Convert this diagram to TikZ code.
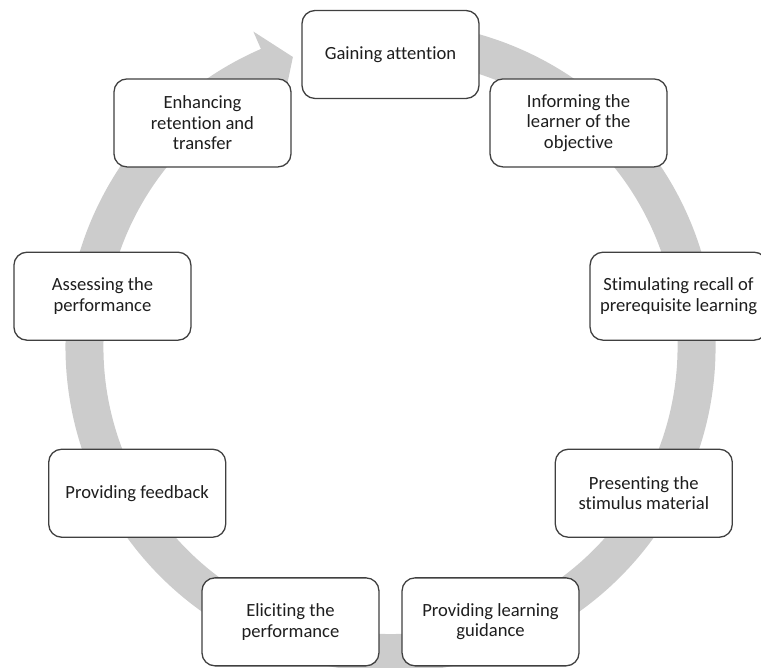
\documentclass[tikz,border=0pt]{standalone}
\usepackage{fontspec}
\setmainfont{Carlito}[Ligatures=NoCommon]
\usetikzlibrary{calc}
\definecolor{ringgray}{RGB}{204,204,204}
\definecolor{boxline}{RGB}{64,64,64}
\definecolor{txt}{RGB}{30,30,30}
\begin{document}
\begin{tikzpicture}[x=1pt,y=1pt,
  stepbox/.style={draw=boxline, line width=1.3pt, fill=white, rounded corners=13pt,
    minimum width=177pt, minimum height=88pt, align=center, text=txt,
    font=\fontsize{18.6}{20.5}\selectfont, inner sep=2pt}]
\useasboundingbox (0,0) rectangle (761,668);
\coordinate (C) at (390.5,321);
% ring arrow (one filled outline)
\fill[ringgray] ($(C)+(100:325)$) arc[start angle=100, end angle=-246.5, radius=325]
  -- ($(C)+(113.5:344)$) -- ($(C)+(108.6:306)$) -- ($(C)+(113.5:268)$)
  -- ($(C)+(113.5:287)$) arc[start angle=113.5, end angle=460, radius=287] -- cycle;
% boxes
\node[stepbox] (n1) at ($(C)+(90:292.5)$) {Gaining attention};
\node[stepbox] (n2) at ($(C)+(50:292.5)$) {Informing the\\learner of the\\objective};
\node[stepbox] (n3) at ($(C)+(10:292.5)$) {Stimulating recall of\\prerequisite learning};
\node[stepbox] (n4) at ($(C)+(-30:292.5)$) {Presenting the\\stimulus material};
\node[stepbox] (n5) at ($(C)+(-70:292.5)$) {Providing learning\\guidance};
\node[stepbox] (n6) at ($(C)+(-110:292.5)$) {Eliciting the\\performance};
\node[stepbox] (n7) at ($(C)+(-150:292.5)$) {Providing feedback};
\node[stepbox] (n8) at ($(C)+(170:292.5)$) {Assessing the\\performance};
\node[stepbox] (n9) at ($(C)+(130:292.5)$) {Enhancing\\retention and\\transfer};
\end{tikzpicture}
\end{document}
